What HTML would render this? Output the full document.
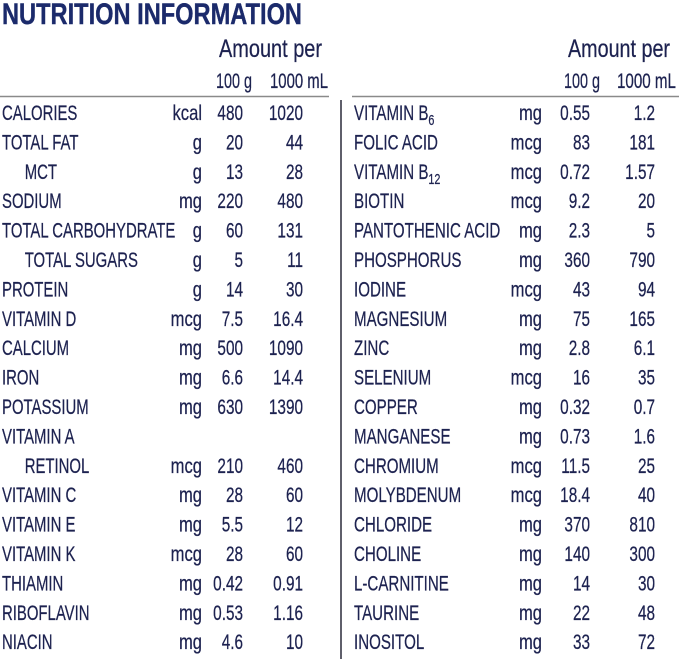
<!DOCTYPE html>
<html><head><meta charset="utf-8"><style>
html,body{margin:0;padding:0;background:#fff;}
svg{display:block;}
text{font-family:"Liberation Sans",Arial,sans-serif;fill:#1d2250;}
.d{font-size:21px;stroke:#1d2250;stroke-width:0.25px;}
.t{font-size:30px;font-weight:bold;fill:#1b2a6b;stroke:#1b2a6b;stroke-width:0.4px;}
.h{font-size:25px;stroke:#1d2250;stroke-width:0.25px;}
</style></head><body>
<svg width="679" height="659" viewBox="0 0 679 659" xmlns="http://www.w3.org/2000/svg">
<rect width="679" height="659" fill="#fff"/>
<text class="t" x="2" y="24" textLength="300" lengthAdjust="spacingAndGlyphs">NUTRITION INFORMATION</text>

<text class="h" x="219" y="57" textLength="103" lengthAdjust="spacingAndGlyphs">Amount per</text>
<text class="d" x="216" y="88" textLength="36" lengthAdjust="spacingAndGlyphs">100 g</text>
<text class="d" x="270" y="88" textLength="58" lengthAdjust="spacingAndGlyphs">1000 mL</text>

<text class="h" x="568" y="57" textLength="102" lengthAdjust="spacingAndGlyphs">Amount per</text>
<text class="d" x="564" y="88" textLength="36" lengthAdjust="spacingAndGlyphs">100 g</text>
<text class="d" x="617" y="88" textLength="59" lengthAdjust="spacingAndGlyphs">1000 mL</text>

<line x1="0" y1="96.5" x2="329" y2="96.5" stroke="#8a8a8a" stroke-width="1.5"/>
<line x1="352" y1="96.5" x2="679" y2="96.5" stroke="#8a8a8a" stroke-width="1.5"/>
<line x1="341" y1="100" x2="341" y2="659" stroke="#2a2a3a" stroke-width="1.5"/>

<!-- LEFT labels -->
<g transform="translate(2,0) scale(0.71,1)">
<text class="d" x="0" y="120">CALORIES</text>
<text class="d" x="0" y="149.4">TOTAL FAT</text>
<text class="d" x="32" y="178.8">MCT</text>
<text class="d" x="0" y="208.2">SODIUM</text>
<text class="d" x="0" y="237.6">TOTAL CARBOHYDRATE</text>
<text class="d" x="32" y="267">TOTAL SUGARS</text>
<text class="d" x="0" y="296.4">PROTEIN</text>
<text class="d" x="0" y="325.8">VITAMIN D</text>
<text class="d" x="0" y="355.2">CALCIUM</text>
<text class="d" x="0" y="384.6">IRON</text>
<text class="d" x="0" y="414">POTASSIUM</text>
<text class="d" x="0" y="443.4">VITAMIN A</text>
<text class="d" x="32" y="472.8">RETINOL</text>
<text class="d" x="0" y="502.2">VITAMIN C</text>
<text class="d" x="0" y="531.6">VITAMIN E</text>
<text class="d" x="0" y="561">VITAMIN K</text>
<text class="d" x="0" y="590.4">THIAMIN</text>
<text class="d" x="0" y="619.8">RIBOFLAVIN</text>
<text class="d" x="0" y="649.2">NIACIN</text>
</g>
<!-- LEFT units -->
<g transform="translate(202,0) scale(0.79,1)">
<text class="d" x="0" y="120" text-anchor="end">kcal</text>
<text class="d" x="0" y="149.4" text-anchor="end">g</text>
<text class="d" x="0" y="178.8" text-anchor="end">g</text>
<text class="d" x="0" y="208.2" text-anchor="end">mg</text>
<text class="d" x="0" y="237.6" text-anchor="end">g</text>
<text class="d" x="0" y="267" text-anchor="end">g</text>
<text class="d" x="0" y="296.4" text-anchor="end">g</text>
<text class="d" x="0" y="325.8" text-anchor="end">mcg</text>
<text class="d" x="0" y="355.2" text-anchor="end">mg</text>
<text class="d" x="0" y="384.6" text-anchor="end">mg</text>
<text class="d" x="0" y="414" text-anchor="end">mg</text>
<text class="d" x="0" y="472.8" text-anchor="end">mcg</text>
<text class="d" x="0" y="502.2" text-anchor="end">mg</text>
<text class="d" x="0" y="531.6" text-anchor="end">mg</text>
<text class="d" x="0" y="561" text-anchor="end">mcg</text>
<text class="d" x="0" y="590.4" text-anchor="end">mg</text>
<text class="d" x="0" y="619.8" text-anchor="end">mg</text>
<text class="d" x="0" y="649.2" text-anchor="end">mg</text>
</g>
<!-- LEFT 100g -->
<g transform="translate(243,0) scale(0.73,1)">
<text class="d" x="0" y="120" text-anchor="end">480</text>
<text class="d" x="0" y="149.4" text-anchor="end">20</text>
<text class="d" x="0" y="178.8" text-anchor="end">13</text>
<text class="d" x="0" y="208.2" text-anchor="end">220</text>
<text class="d" x="0" y="237.6" text-anchor="end">60</text>
<text class="d" x="0" y="267" text-anchor="end">5</text>
<text class="d" x="0" y="296.4" text-anchor="end">14</text>
<text class="d" x="0" y="325.8" text-anchor="end">7.5</text>
<text class="d" x="0" y="355.2" text-anchor="end">500</text>
<text class="d" x="0" y="384.6" text-anchor="end">6.6</text>
<text class="d" x="0" y="414" text-anchor="end">630</text>
<text class="d" x="0" y="472.8" text-anchor="end">210</text>
<text class="d" x="0" y="502.2" text-anchor="end">28</text>
<text class="d" x="0" y="531.6" text-anchor="end">5.5</text>
<text class="d" x="0" y="561" text-anchor="end">28</text>
<text class="d" x="0" y="590.4" text-anchor="end">0.42</text>
<text class="d" x="0" y="619.8" text-anchor="end">0.53</text>
<text class="d" x="0" y="649.2" text-anchor="end">4.6</text>
</g>
<!-- LEFT 1000mL -->
<g transform="translate(303,0) scale(0.73,1)">
<text class="d" x="0" y="120" text-anchor="end">1020</text>
<text class="d" x="0" y="149.4" text-anchor="end">44</text>
<text class="d" x="0" y="178.8" text-anchor="end">28</text>
<text class="d" x="0" y="208.2" text-anchor="end">480</text>
<text class="d" x="0" y="237.6" text-anchor="end">131</text>
<text class="d" x="0" y="267" text-anchor="end">11</text>
<text class="d" x="0" y="296.4" text-anchor="end">30</text>
<text class="d" x="0" y="325.8" text-anchor="end">16.4</text>
<text class="d" x="0" y="355.2" text-anchor="end">1090</text>
<text class="d" x="0" y="384.6" text-anchor="end">14.4</text>
<text class="d" x="0" y="414" text-anchor="end">1390</text>
<text class="d" x="0" y="472.8" text-anchor="end">460</text>
<text class="d" x="0" y="502.2" text-anchor="end">60</text>
<text class="d" x="0" y="531.6" text-anchor="end">12</text>
<text class="d" x="0" y="561" text-anchor="end">60</text>
<text class="d" x="0" y="590.4" text-anchor="end">0.91</text>
<text class="d" x="0" y="619.8" text-anchor="end">1.16</text>
<text class="d" x="0" y="649.2" text-anchor="end">10</text>
</g>

<!-- RIGHT labels -->
<g transform="translate(354,0) scale(0.72,1)">
<text class="d" x="0" y="120">VITAMIN B<tspan font-size="15" dy="5">6</tspan></text>
<text class="d" x="0" y="149.4">FOLIC ACID</text>
<text class="d" x="0" y="178.8">VITAMIN B<tspan font-size="15" dy="5">12</tspan></text>
<text class="d" x="0" y="208.2">BIOTIN</text>
<text class="d" x="0" y="237.6">PANTOTHENIC ACID</text>
<text class="d" x="0" y="267">PHOSPHORUS</text>
<text class="d" x="0" y="296.4">IODINE</text>
<text class="d" x="0" y="325.8">MAGNESIUM</text>
<text class="d" x="0" y="355.2">ZINC</text>
<text class="d" x="0" y="384.6">SELENIUM</text>
<text class="d" x="0" y="414">COPPER</text>
<text class="d" x="0" y="443.4">MANGANESE</text>
<text class="d" x="0" y="472.8">CHROMIUM</text>
<text class="d" x="0" y="502.2">MOLYBDENUM</text>
<text class="d" x="0" y="531.6">CHLORIDE</text>
<text class="d" x="0" y="561">CHOLINE</text>
<text class="d" x="0" y="590.4">L-CARNITINE</text>
<text class="d" x="0" y="619.8">TAURINE</text>
<text class="d" x="0" y="649.2">INOSITOL</text>
</g>
<!-- RIGHT units -->
<g transform="translate(542,0) scale(0.79,1)">
<text class="d" x="0" y="120" text-anchor="end">mg</text>
<text class="d" x="0" y="149.4" text-anchor="end">mcg</text>
<text class="d" x="0" y="178.8" text-anchor="end">mcg</text>
<text class="d" x="0" y="208.2" text-anchor="end">mcg</text>
<text class="d" x="0" y="237.6" text-anchor="end">mg</text>
<text class="d" x="0" y="267" text-anchor="end">mg</text>
<text class="d" x="0" y="296.4" text-anchor="end">mcg</text>
<text class="d" x="0" y="325.8" text-anchor="end">mg</text>
<text class="d" x="0" y="355.2" text-anchor="end">mg</text>
<text class="d" x="0" y="384.6" text-anchor="end">mcg</text>
<text class="d" x="0" y="414" text-anchor="end">mg</text>
<text class="d" x="0" y="443.4" text-anchor="end">mg</text>
<text class="d" x="0" y="472.8" text-anchor="end">mcg</text>
<text class="d" x="0" y="502.2" text-anchor="end">mcg</text>
<text class="d" x="0" y="531.6" text-anchor="end">mg</text>
<text class="d" x="0" y="561" text-anchor="end">mg</text>
<text class="d" x="0" y="590.4" text-anchor="end">mg</text>
<text class="d" x="0" y="619.8" text-anchor="end">mg</text>
<text class="d" x="0" y="649.2" text-anchor="end">mg</text>
</g>
<!-- RIGHT 100g -->
<g transform="translate(590,0) scale(0.73,1)">
<text class="d" x="0" y="120" text-anchor="end">0.55</text>
<text class="d" x="0" y="149.4" text-anchor="end">83</text>
<text class="d" x="0" y="178.8" text-anchor="end">0.72</text>
<text class="d" x="0" y="208.2" text-anchor="end">9.2</text>
<text class="d" x="0" y="237.6" text-anchor="end">2.3</text>
<text class="d" x="0" y="267" text-anchor="end">360</text>
<text class="d" x="0" y="296.4" text-anchor="end">43</text>
<text class="d" x="0" y="325.8" text-anchor="end">75</text>
<text class="d" x="0" y="355.2" text-anchor="end">2.8</text>
<text class="d" x="0" y="384.6" text-anchor="end">16</text>
<text class="d" x="0" y="414" text-anchor="end">0.32</text>
<text class="d" x="0" y="443.4" text-anchor="end">0.73</text>
<text class="d" x="0" y="472.8" text-anchor="end">11.5</text>
<text class="d" x="0" y="502.2" text-anchor="end">18.4</text>
<text class="d" x="0" y="531.6" text-anchor="end">370</text>
<text class="d" x="0" y="561" text-anchor="end">140</text>
<text class="d" x="0" y="590.4" text-anchor="end">14</text>
<text class="d" x="0" y="619.8" text-anchor="end">22</text>
<text class="d" x="0" y="649.2" text-anchor="end">33</text>
</g>
<!-- RIGHT 1000mL -->
<g transform="translate(655,0) scale(0.73,1)">
<text class="d" x="0" y="120" text-anchor="end">1.2</text>
<text class="d" x="0" y="149.4" text-anchor="end">181</text>
<text class="d" x="0" y="178.8" text-anchor="end">1.57</text>
<text class="d" x="0" y="208.2" text-anchor="end">20</text>
<text class="d" x="0" y="237.6" text-anchor="end">5</text>
<text class="d" x="0" y="267" text-anchor="end">790</text>
<text class="d" x="0" y="296.4" text-anchor="end">94</text>
<text class="d" x="0" y="325.8" text-anchor="end">165</text>
<text class="d" x="0" y="355.2" text-anchor="end">6.1</text>
<text class="d" x="0" y="384.6" text-anchor="end">35</text>
<text class="d" x="0" y="414" text-anchor="end">0.7</text>
<text class="d" x="0" y="443.4" text-anchor="end">1.6</text>
<text class="d" x="0" y="472.8" text-anchor="end">25</text>
<text class="d" x="0" y="502.2" text-anchor="end">40</text>
<text class="d" x="0" y="531.6" text-anchor="end">810</text>
<text class="d" x="0" y="561" text-anchor="end">300</text>
<text class="d" x="0" y="590.4" text-anchor="end">30</text>
<text class="d" x="0" y="619.8" text-anchor="end">48</text>
<text class="d" x="0" y="649.2" text-anchor="end">72</text>
</g>
</svg>
</body></html>
